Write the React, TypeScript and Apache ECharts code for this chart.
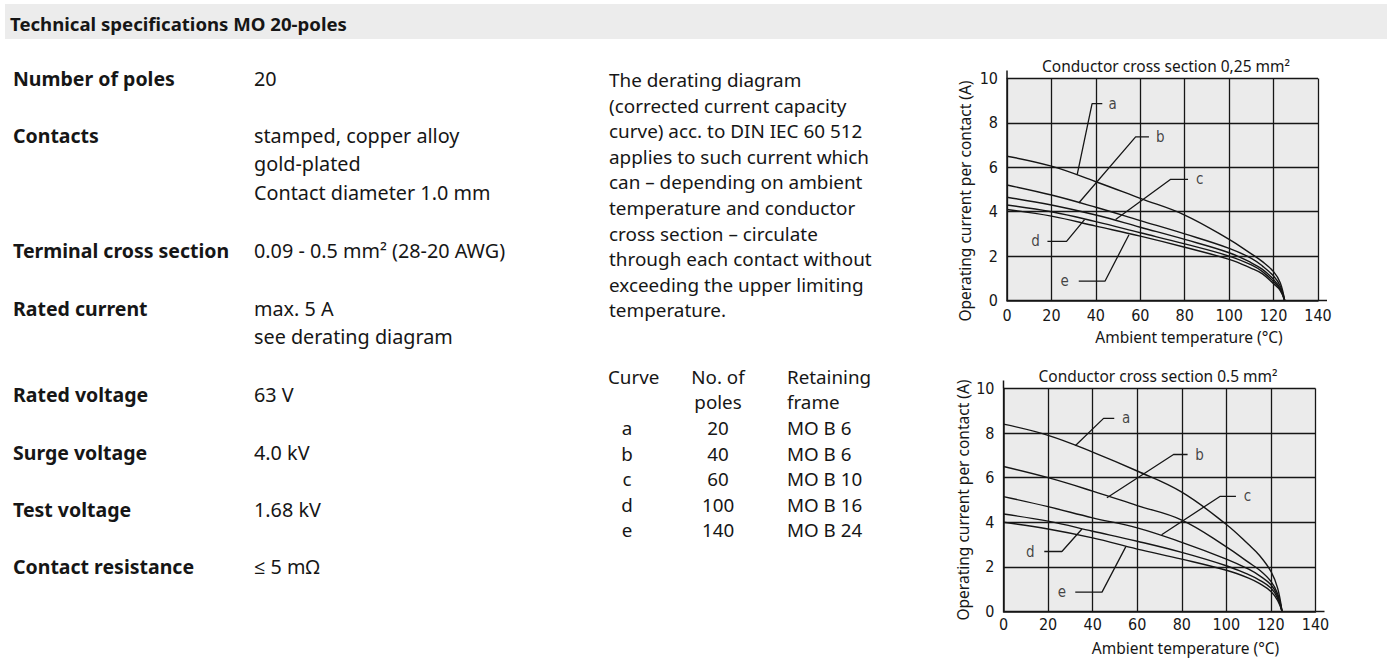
import React, { useEffect, useRef } from "react";
import * as echarts from "echarts";

// ---------- data ----------
const temps = [0, 20, 40, 60, 80, 100, 110, 115, 120, 123, 125];
const curveIds = ["a", "b", "c", "d", "e"];

// Conductor cross section 0,25 mm²
const top_a = [6.5, 6.05, 5.35, 4.6, 3.85, 2.75, 2.1, 1.75, 1.3, 0.8, 0];
const top_b = [5.2, 4.75, 4.2, 3.6, 3.0, 2.35, 1.9, 1.55, 1.1, 0.65, 0];
const top_c = [4.65, 4.3, 3.85, 3.3, 2.75, 2.15, 1.7, 1.4, 0.95, 0.55, 0];
const top_d = [4.3, 4.0, 3.55, 3.05, 2.55, 2.0, 1.6, 1.3, 0.85, 0.5, 0];
const top_e = [4.1, 3.8, 3.35, 2.9, 2.4, 1.85, 1.45, 1.2, 0.75, 0.45, 0];

// Conductor cross section 0.5 mm²
const bot_a = [8.4, 7.9, 7.15, 6.3, 5.35, 3.9, 3.0, 2.5, 1.8, 1.05, 0];
const bot_b = [6.5, 6.0, 5.4, 4.75, 4.1, 2.9, 2.2, 1.85, 1.35, 0.8, 0];
const bot_c = [5.15, 4.7, 4.2, 3.75, 3.1, 2.35, 1.9, 1.6, 1.2, 0.7, 0];
const bot_d = [4.37, 4.05, 3.6, 3.15, 2.65, 2.05, 1.65, 1.4, 1.05, 0.6, 0];
const bot_e = [4.0, 3.7, 3.3, 2.8, 2.35, 1.85, 1.5, 1.25, 0.9, 0.5, 0];

// leader lines (data coords) and label anchors
const topLeaders = [
  [[31.6, 5.67], [38.3, 8.87], [42.9, 8.87]],
  [[32.3, 4.39], [57.9, 7.37], [63.9, 7.37]],
  [[48.9, 3.65], [73.7, 5.46], [81.5, 5.46]],
  [[34.9, 3.64], [26.8, 2.66], [18.2, 2.66]],
  [[54.9, 2.96], [44.1, 0.87], [32.3, 0.87]],
];
const topLeaderLabels = [[47.5, 8.87], [69, 7.37], [86.8, 5.46], [12.8, 2.66], [26, 0.87]];
const botLeaders = [
  [[32.2, 7.43], [44.9, 8.66], [49.7, 8.66]],
  [[46.4, 5.1], [76.3, 7.04], [82.6, 7.04]],
  [[70.95, 3.44], [97.1, 5.16], [104.3, 5.16]],
  [[35.2, 3.7], [26.2, 2.69], [18.3, 2.69]],
  [[54.9, 2.91], [44.2, 0.87], [32.2, 0.87]],
];
const botLeaderLabels = [[55, 8.66], [88, 7.04], [109.5, 5.16], [12, 2.69], [26.2, 0.87]];

const xTicks = { min: 0, max: 140, interval: 20 };
const yTicks = { min: 0, max: 10, interval: 2 };

const chartTitles = ["Conductor cross section 0,25 mm²", "Conductor cross section 0.5 mm²"];
const yName = "Operating current per contact (A)";
const xName = "Ambient temperature (°C)";

const heading = "Technical specifications MO 20-poles";
const specLabels = [
  "Number of poles",
  "Contacts",
  "Terminal cross section",
  "Rated current",
  "Rated voltage",
  "Surge voltage",
  "Test voltage",
  "Contact resistance",
];
const specValues = [
  ["20"],
  ["stamped, copper alloy", "gold-plated", "Contact diameter 1.0 mm"],
  ["0.09 - 0.5 mm² (28-20 AWG)"],
  ["max. 5 A", "see derating diagram"],
  ["63 V"],
  ["4.0 kV"],
  ["1.68 kV"],
  ["≤ 5 mΩ"],
];
const paragraph = [
  "The derating diagram",
  "(corrected current capacity",
  "curve) acc. to DIN IEC 60 512",
  "applies to such current which",
  "can – depending on ambient",
  "temperature and conductor",
  "cross section – circulate",
  "through each contact without",
  "exceeding the upper limiting",
  "temperature.",
];
const tableHead = [["Curve", ""], ["No. of", "poles"], ["Retaining", "frame"]];
const curvePoles = ["20", "40", "60", "100", "140"];
const curveFrames = ["MO B 6", "MO B 6", "MO B 10", "MO B 16", "MO B 24"];

// ---------- layout ----------
const BODY = '"Noto Sans", "Open Sans", sans-serif';
const NARROW = '"DejaVu Sans Condensed", "Liberation Sans Narrow", sans-serif';
const INK = "#161616";
const grids = [
  { left: 1007, top: 78.5, width: 311, height: 222 },
  { left: 1003.5, top: 388.5, width: 312, height: 223 },
];
const xLabelMargin = [7, 5];
const specRowY = [78, 135, 250, 308, 394, 452, 509, 566];
const LINE_H = 28.5;

function pairs(ys: number[]) {
  return temps.map((t, i) => [t, ys[i]]);
}

function txt(text: string, x: number, y: number, opts: any = {}) {
  return {
    type: "text",
    x,
    y,
    rotation: opts.rotation || 0,
    silent: true,
    style: {
      text,
      fill: opts.fill || INK,
      fontSize: opts.size || 19,
      fontFamily: opts.family || BODY,
      fontWeight: opts.weight || "normal",
      align: opts.align || "left",
      verticalAlign: "middle",
      textAlign: opts.align || "left",
      textVerticalAlign: "middle",
    },
  };
}

export default function App() {
  const ref = useRef<HTMLDivElement>(null);

  useEffect(() => {
    if (!ref.current) return;
    const chart = echarts.init(ref.current, undefined, { renderer: "svg" });

    const topCurves = [top_a, top_b, top_c, top_d, top_e];
    const botCurves = [bot_a, bot_b, bot_c, bot_d, bot_e];

    const series: any[] = [];
    [topCurves, botCurves].forEach((curves, gi) => {
      curves.forEach((ys, ci) => {
        series.push({
          type: "line",
          name: `${gi}-${curveIds[ci]}`,
          xAxisIndex: gi,
          yAxisIndex: gi,
          data: pairs(ys),
          smooth: 0.4,
          symbol: "none",
          lineStyle: { color: INK, width: 1.4 },
          silent: true,
          z: 3,
        });
      });
      const leaders = gi === 0 ? topLeaders : botLeaders;
      const lbls = gi === 0 ? topLeaderLabels : botLeaderLabels;
      leaders.forEach((pts) => {
        series.push({
          type: "line",
          xAxisIndex: gi,
          yAxisIndex: gi,
          data: pts,
          symbol: "none",
          lineStyle: { color: INK, width: 1.3 },
          silent: true,
          z: 2,
        });
      });
      series.push({
        type: "scatter",
        xAxisIndex: gi,
        yAxisIndex: gi,
        symbolSize: 0,
        silent: true,
        data: lbls.map((p, ci) => ({ value: p, name: curveIds[ci] })),
        label: {
          show: true,
          position: "inside",
          formatter: "{b}",
          color: INK,
          fontSize: 15,
          fontFamily: NARROW,
        },
        z: 4,
      });
    });

    const mkX = (gi: number) => ({
      type: "value",
      gridIndex: gi,
      min: xTicks.min,
      max: xTicks.max,
      interval: xTicks.interval,
      axisLine: { show: true, lineStyle: { color: INK, width: 1.5 } },
      axisTick: { show: false },
      splitLine: { show: true, lineStyle: { color: INK, width: 1.3 } },
      axisLabel: { color: INK, fontSize: 16, fontFamily: NARROW, margin: xLabelMargin[gi] },
    });
    const mkY = (gi: number) => ({
      type: "value",
      gridIndex: gi,
      min: yTicks.min,
      max: yTicks.max,
      interval: yTicks.interval,
      axisLine: { show: true, lineStyle: { color: INK, width: 1.5 } },
      axisTick: { show: false },
      splitLine: { show: true, lineStyle: { color: INK, width: 1.3 } },
      axisLabel: { color: INK, fontSize: 16, fontFamily: NARROW, margin: 9 },
    });

    const graphic: any[] = [];
    graphic.push({
      type: "rect",
      shape: { x: 5, y: 4, width: 1382, height: 35 },
      style: { fill: "#ececec" },
      silent: true,
      z: -10,
    });
    graphic.push(txt(heading, 10, 23, { size: 18.6, weight: "bold" }));

    specLabels.forEach((lab, i) => {
      graphic.push(txt(lab, 13, specRowY[i], { size: 19.5, weight: "bold" }));
      specValues[i].forEach((v, j) => {
        graphic.push(txt(v, 254, specRowY[i] + j * LINE_H, { size: 19.8 }));
      });
    });

    paragraph.forEach((line, i) => {
      graphic.push(txt(line, 609, 80 + i * 25.6, { size: 18.9 }));
    });

    graphic.push(txt(tableHead[0][0], 608, 377, { size: 18.8 }));
    graphic.push(txt(tableHead[1][0], 718, 377, { size: 18.8, align: "center" }));
    graphic.push(txt(tableHead[1][1], 718, 402, { size: 18.8, align: "center" }));
    graphic.push(txt(tableHead[2][0], 787, 377, { size: 18.8 }));
    graphic.push(txt(tableHead[2][1], 787, 402, { size: 18.8 }));
    curveIds.forEach((id, i) => {
      const y = 428 + i * 25.5;
      graphic.push(txt(id, 627, y, { size: 18.8, align: "center" }));
      graphic.push(txt(curvePoles[i], 718, y, { size: 18.8, align: "center" }));
      graphic.push(txt(curveFrames[i], 787, y, { size: 18.8 }));
    });

    const titleCx = [1166, 1158];
    const xNameCx = [1189, 1185.5];
    const yNameCy = [201, 500];
    const yNameX = [965, 963];
    grids.forEach((g, gi) => {
      graphic.push(txt(chartTitles[gi], titleCx[gi], g.top - 12.5, { size: 15.5, align: "center" }));
      graphic.push(txt(xName, xNameCx[gi], g.top + g.height + 36, { size: 15.5, align: "center" }));
      graphic.push(
        txt(yName, yNameX[gi], yNameCy[gi], { size: 15.5, align: "center", rotation: Math.PI / 2 })
      );
      graphic.push({
        type: "line",
        shape: { x1: g.left, y1: g.top - 8, x2: g.left, y2: g.top },
        style: { stroke: INK, lineWidth: 1.5 },
        silent: true,
      });
      graphic.push({
        type: "line",
        shape: { x1: g.left + g.width, y1: g.top + g.height, x2: g.left + g.width + 9, y2: g.top + g.height },
        style: { stroke: INK, lineWidth: 1.5 },
        silent: true,
      });
    });

    chart.setOption({
      animation: false,
      backgroundColor: "#ffffff",
      grid: grids.map((g) => ({
        ...g,
        show: true,
        backgroundColor: "#ebebeb",
        borderWidth: 0,
        containLabel: false,
      })),
      xAxis: [mkX(0), mkX(1)],
      yAxis: [mkY(0), mkY(1)],
      series,
      graphic: { elements: graphic },
    });

    return () => chart.dispose();
  }, []);

  return (
    <div
      ref={ref}
      style={{ position: "absolute", left: 0, top: 0, width: 1389, height: 662, background: "#fff" }}
    />
  );
}
